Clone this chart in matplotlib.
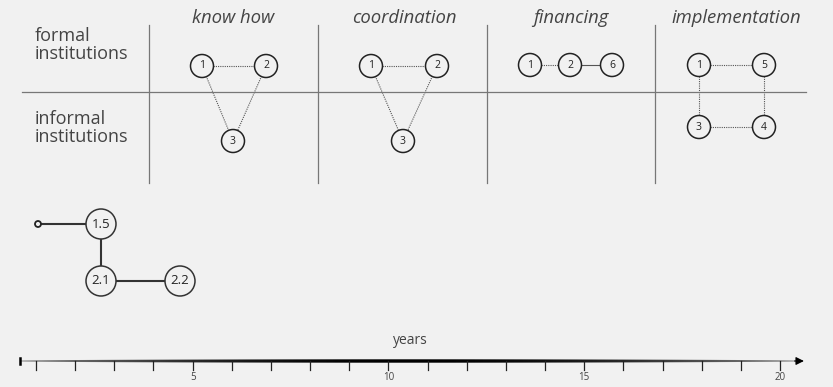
import numpy as np
import matplotlib.pyplot as plt
from matplotlib.patches import Circle, Polygon

plt.rcParams['font.family'] = ['Open Sans', 'DejaVu Sans']

# --- data ---
panel_titles = ['know how', 'coordination', 'financing', 'implementation']
row_labels = ['formal\ninstitutions', 'informal\ninstitutions']

knowhow_nodes = ['1', '2', '3']
knowhow_edges = [(0, 1, 'dotted'), (0, 2, 'dotted'), (1, 2, 'dotted')]
coord_nodes = ['1', '2', '3']
coord_edges = [(0, 1, 'dotted'), (0, 2, 'dotted'), (1, 2, 'dotted')]
finance_nodes = ['1', '2', '6']
finance_edges = [(0, 1, 'dotted'), (1, 2, 'solid')]
impl_nodes = ['1', '5', '3', '4']
impl_edges = [(0, 1, 'dotted'), (0, 2, 'dotted'), (1, 3, 'dotted'), (2, 3, 'dotted')]

path_nodes = ['1.5', '2.1', '2.2']
years = list(range(1, 21))
year_labels = [5, 10, 15, 20]

# --- layout (pixel coords) ---
bg = '#f1f1f1'
col_lines = [149, 318, 487, 655]
title_x = [233, 404, 571, 736]
knowhow_pos = [(202, 66), (266, 66), (233, 141)]
coord_pos = [(371, 66), (437, 66), (403, 141)]
finance_pos = [(530, 65), (570, 65), (612, 65)]
impl_pos = [(699, 65), (764, 65), (699, 127), (764, 127)]
path_pos = [(101, 224), (101, 281), (180, 281)]

fig = plt.figure(figsize=(8.33, 3.87), dpi=100, facecolor=bg)
ax = fig.add_axes([0, 0, 1, 1])
ax.set_xlim(0, 833)
ax.set_ylim(387, 0)
ax.axis('off')

# grid of the table
for x in col_lines:
    ax.plot([x, x], [25, 183], color='#777777', lw=0.9)
ax.plot([22, 806], [92, 92], color='#777777', lw=0.9)

for x, t in zip(title_x, panel_titles):
    ax.text(x, 18, t, ha='center', va='center', style='italic', fontsize=13.3, color='#444444')
ax.text(35, 45, row_labels[0], ha='left', va='center', fontsize=13, color='#444444', linespacing=1.0)
ax.text(35, 128, row_labels[1], ha='left', va='center', fontsize=13, color='#444444', linespacing=1.0)


def draw_graph(nodes, edges, pos, r=11.5, fs=7.5, lw=1.1):
    for i, j, style in edges:
        ls = (0, (1, 1)) if style == 'dotted' else '-'
        ax.plot([pos[i][0], pos[j][0]], [pos[i][1], pos[j][1]],
                color='#555555', lw=0.8, ls=ls, zorder=1)
    for lab, (x, y) in zip(nodes, pos):
        ax.add_patch(Circle((x, y), r, facecolor=bg, edgecolor='#222222', lw=lw, zorder=2))
        ax.text(x, y, lab, ha='center', va='center', fontsize=fs, color='#222222', zorder=3)


draw_graph(knowhow_nodes, knowhow_edges, knowhow_pos)
draw_graph(coord_nodes, coord_edges, coord_pos)
draw_graph(finance_nodes, finance_edges, finance_pos)
draw_graph(impl_nodes, impl_edges, impl_pos)

# path diagram
ax.plot([38, path_pos[0][0]], [224, 224], color='#333333', lw=1.5, zorder=1)
ax.add_patch(Circle((38, 224), 3, facecolor=bg, edgecolor='#222222', lw=1.3, zorder=2))
for a, b in [(0, 1), (1, 2)]:
    ax.plot([path_pos[a][0], path_pos[b][0]], [path_pos[a][1], path_pos[b][1]],
            color='#333333', lw=1.5, zorder=1)
for lab, (x, y) in zip(path_nodes, path_pos):
    ax.add_patch(Circle((x, y), 15, facecolor=bg, edgecolor='#333333', lw=1.1, zorder=2))
    ax.text(x, y, lab, ha='center', va='center', fontsize=9.5, color='#222222', zorder=3)

# --- timeline in years ---
ax2 = fig.add_axes([0, 0, 1, 1])
ax2.patch.set_alpha(0)
ax2.axis('off')
px_per_year = 39.16
x0 = 1 - 36 / px_per_year
ax2.set_xlim(x0, x0 + 833 / px_per_year)
ax2.set_ylim(387, 0)

line_y = 361
start, end = 0.6, 20.4
xs = np.linspace(start, end, 400)
t = (xs - start) / (end - start)
w = np.sin(np.pi * t) ** 0.7
half = 0.6 + 1.1 * w  # half thickness in pixels
poly = Polygon(np.column_stack([np.r_[xs, xs[::-1]], np.r_[line_y - half, (line_y + half)[::-1]]]),
               closed=True, facecolor='none', edgecolor='none')
ax2.add_patch(poly)
grad = 0.62 * (1 - w)
img = ax2.imshow(np.tile(grad, (2, 1)), cmap='gray', vmin=0, vmax=1, aspect='auto',
                 extent=(start, end, line_y + 2, line_y - 2), interpolation='bilinear')
img.set_clip_path(poly)
ax2.set_xlim(x0, x0 + 833 / px_per_year)
ax2.set_ylim(387, 0)
ax2.plot([start, start], [line_y - 3, line_y + 3], color='black', lw=1.8)
ax2.annotate('', xy=(20.68, line_y), xytext=(20.3, line_y),
             arrowprops=dict(arrowstyle='-|>', color='black', lw=0.8, mutation_scale=12))

for yr in years:
    ax2.plot([yr, yr], [line_y, line_y + 9], color='#222222', lw=0.9)
for yr in year_labels:
    ax2.text(yr, 378, str(yr), ha='center', va='center', fontsize=7, color='#444444')
ax2.text(10.55, 341, 'years', ha='center', va='center', fontsize=10, color='#444444')

fig.savefig('out.png', dpi=100, facecolor=bg)
